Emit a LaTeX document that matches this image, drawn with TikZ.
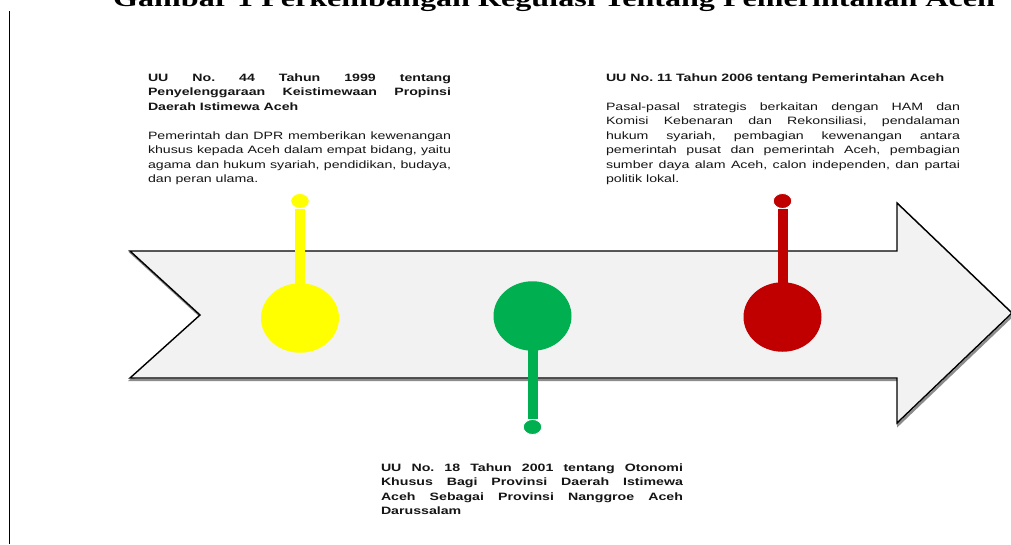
\documentclass[tikz,border=0pt]{standalone}
\usepackage{fontspec}
\setmainfont{Liberation Sans}
\newfontfamily\uifont[FakeStretch=1.33]{Liberation Sans}
\newfontfamily\ttlfont[FakeStretch=1.39]{Liberation Serif}
\usetikzlibrary{shapes.geometric}
\definecolor{arrowfill}{HTML}{F2F2F2}
\definecolor{pinyellow}{HTML}{FFFF00}
\definecolor{pingreen}{HTML}{00B050}
\definecolor{pinred}{HTML}{C00000}
\definecolor{txt}{HTML}{151515}
\hyphenpenalty=10000
\exhyphenpenalty=10000
\tolerance=10000
\frenchspacing
\tikzset{
  txtblock/.style={anchor=base west, inner sep=0pt, outer sep=0pt, align=justify,
    font=\uifont\fontsize{10.65pt}{14.5pt}\selectfont\frenchspacing, text=txt},
  bigpin/.style={ellipse, inner sep=0pt, outer sep=0pt, minimum width=78pt, minimum height=69.5pt, fill=#1},
  smallpin/.style={ellipse, inner sep=0pt, minimum width=18.5pt, minimum height=15pt, fill=#1, draw=white, line width=0.8pt},
  stemline/.style={line width=10pt, draw=#1, shorten <=-4pt},
  arrowbody/.style={fill=arrowfill, draw=black, line width=1.4pt, line join=miter},
  arrowshadow/.style={draw=black!45, line width=2.4pt, line join=miter},
}
\begin{document}
\begin{tikzpicture}[x=1pt,y=-1pt]
\useasboundingbox (0,0) rectangle (1011,544);
\fill[white] (0,0) rectangle (1011,544);
% title (cut at the top)
\node[anchor=base west, inner sep=0pt, font=\ttlfont\bfseries\fontsize{23.1pt}{26pt}\selectfont] (title) at (113,6.5)
  {Gambar 1 Perkembangan Regulasi Tentang Pemerintahan Aceh};
% left rule
\coordinate (ruletop) at (9.5,11);
\coordinate (rulebot) at (9.5,544);
\draw[line width=1.2pt] (ruletop) -- (rulebot);
% arrow
\draw[arrowshadow, shift={(1.2,1.8)}] (130,251) -- (897,251) -- (897,203) -- (1012,313) -- (897,423) -- (897,378) -- (130,378) -- (200,315) -- cycle;
\draw[arrowbody] (130,251) -- (897,251) -- (897,203) -- (1012,313) -- (897,423) -- (897,378) -- (130,378) -- (200,315) -- cycle;
% pins
\node[bigpin=pinyellow] (ybig) at (300,318) {};
\node[smallpin=pinyellow] (ysmall) at (300,201) {};
\draw[stemline=pinyellow] (ybig) -- (ysmall);
\node[bigpin=pingreen] (gbig) at (532.5,316) {};
\node[smallpin=pingreen] (gsmall) at (532.5,427) {};
\draw[stemline=pingreen] (gbig) -- (gsmall);
\node[bigpin=pinred] (rbig) at (782.5,317) {};
\node[smallpin=pinred] (rsmall) at (782.5,201) {};
\draw[stemline=pinred] (rbig) -- (rsmall);
% texts
\node[txtblock, text width=303pt] (t1999) at (148,81) {%
\bfseries UU No. 44 Tahun 1999 tentang\linebreak
Penyelenggaraan Keistimewaan Propinsi\linebreak
Daerah Istimewa Aceh\par\vspace{14.5pt}
\mdseries Pemerintah dan DPR memberikan kewenangan\linebreak
khusus kepada Aceh dalam empat bidang, yaitu\linebreak
agama dan hukum syariah, pendidikan, budaya,\linebreak
dan peran ulama.\par};
\node[txtblock, text width=354pt] (t2006) at (606,81) {%
\bfseries UU No. 11 Tahun 2006 tentang Pemerintahan Aceh\par\vspace{14.5pt}
\mdseries Pasal-pasal strategis berkaitan dengan HAM dan\linebreak
Komisi Kebenaran dan Rekonsiliasi, pendalaman\linebreak
hukum syariah, pembagian kewenangan antara\linebreak
pemerintah pusat dan pemerintah Aceh, pembagian\linebreak
sumber daya alam Aceh, calon independen, dan partai\linebreak
politik lokal.\par};
\node[txtblock, text width=302pt] (t2001) at (381,471) {%
\bfseries UU No. 18 Tahun 2001 tentang Otonomi\linebreak
Khusus Bagi Provinsi Daerah Istimewa\linebreak
Aceh Sebagai Provinsi Nanggroe Aceh\linebreak
Darussalam\par};
\end{tikzpicture}
\end{document}
